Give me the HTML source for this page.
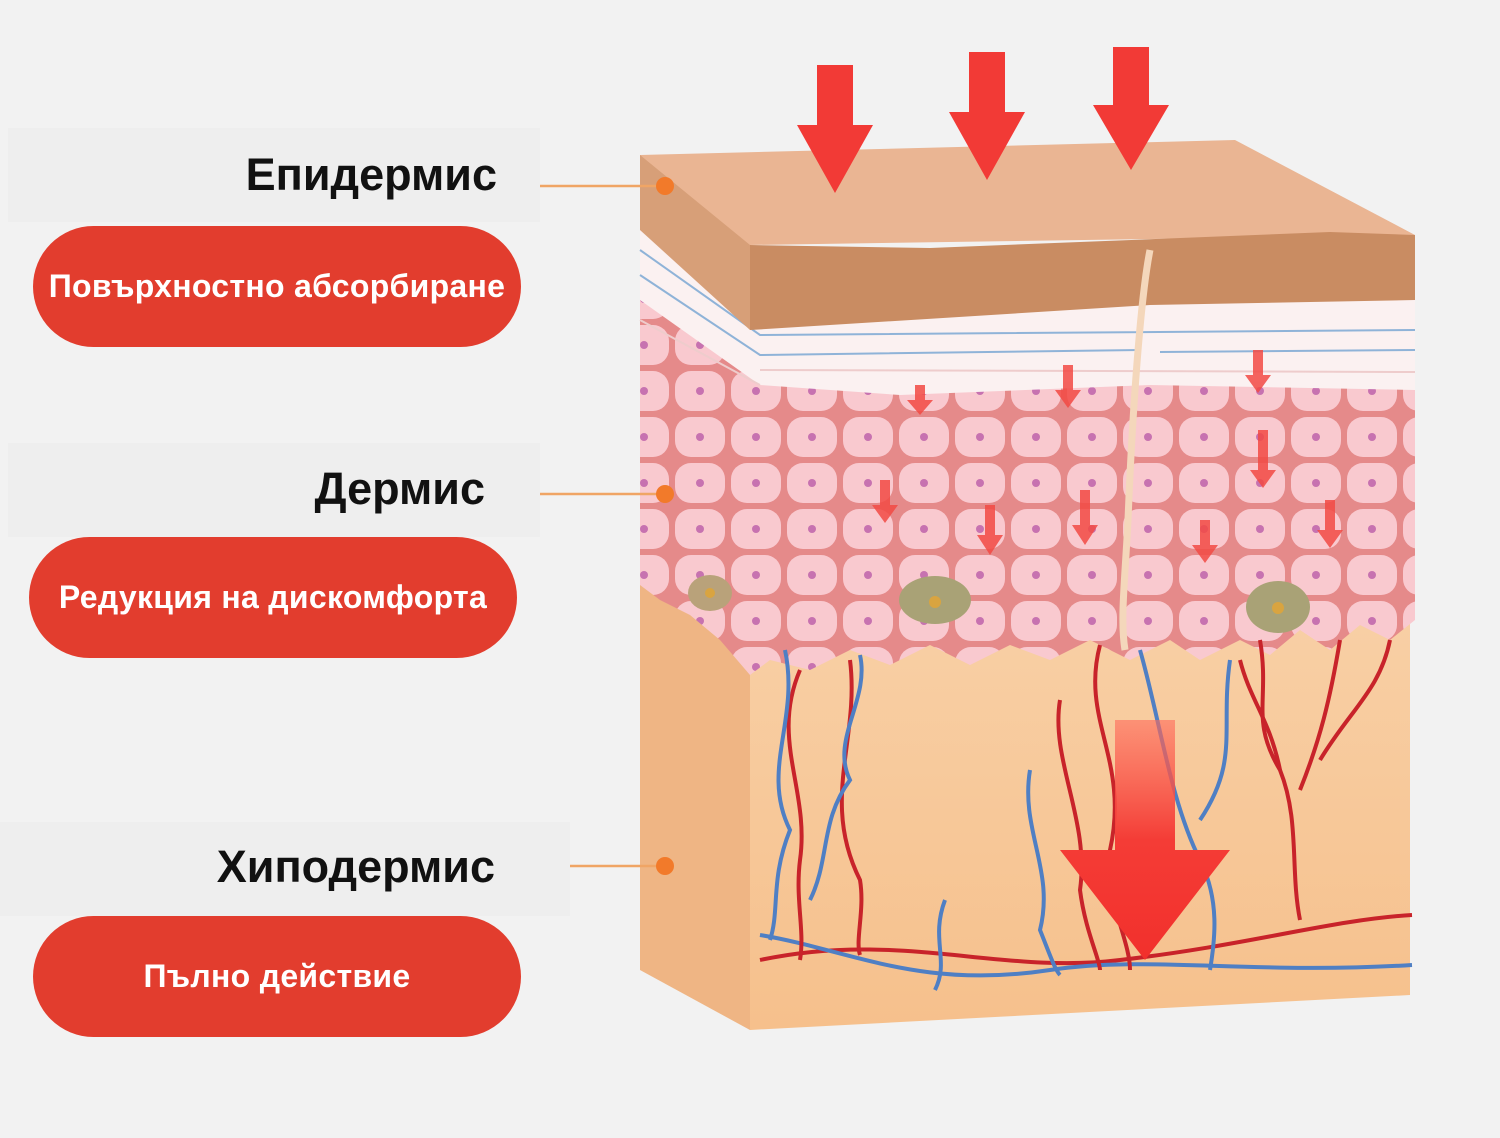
<!DOCTYPE html>
<html><head><meta charset="utf-8"><style>
body{margin:0;width:1500px;height:1138px;background:#f2f2f2;position:relative;overflow:hidden;font-family:"Liberation Sans","DejaVu Sans",sans-serif}
.panel{position:absolute;background:#eeeeee}
.h{position:absolute;font-weight:bold;font-size:45px;color:#111;text-align:right}
.pill{position:absolute;background:#e23d2e;border-radius:61px;color:#fff;font-weight:bold;font-size:32px;display:flex;align-items:center;justify-content:center;letter-spacing:0.3px;white-space:nowrap}
svg{position:absolute;left:0;top:0}
</style></head><body>
<div class="panel" style="left:8px;top:128px;width:532px;height:94px"></div>
<div class="panel" style="left:8px;top:443px;width:532px;height:94px"></div>
<div class="panel" style="left:0;top:822px;width:570px;height:94px"></div>
<div class="h" style="right:1003px;top:149px">Епидермис</div>
<div class="h" style="right:1015px;top:463px">Дермис</div>
<div class="h" style="right:1005px;top:841px">Хиподермис</div>
<div class="pill" style="left:33px;top:226px;width:488px;height:121px">Повърхностно абсорбиране</div>
<div class="pill" style="left:29px;top:537px;width:488px;height:121px">Редукция на дискомфорта</div>
<div class="pill" style="left:33px;top:916px;width:488px;height:121px">Пълно действие</div>
<svg width="1500" height="1138" viewBox="0 0 1500 1138">
<defs>
<pattern id="cells" width="56" height="46" patternUnits="userSpaceOnUse">
<rect width="56" height="46" fill="#e58a8a"/>
<rect x="3" y="3" width="50" height="40" rx="16" fill="#f9c9cf"/>
<circle cx="28" cy="23" r="4" fill="#c772b0"/>
</pattern>
<linearGradient id="hyp" x1="0" y1="0" x2="0" y2="1"><stop offset="0" stop-color="#f8d0a6"/><stop offset="1" stop-color="#f6c08c"/></linearGradient>
<linearGradient id="ar" x1="0" y1="0" x2="0" y2="1"><stop offset="0" stop-color="#ff6a5a" stop-opacity="0.6"/><stop offset="0.5" stop-color="#f43c36"/><stop offset="1" stop-color="#f2302c"/></linearGradient>
</defs>
<polygon points="640,560 750,600 750,1030 640,970" fill="#efb584"/>
<polygon points="750,600 1410,600 1410,995 750,1030" fill="url(#hyp)"/>
<path d="M640,300 L1415,300 L1415,620 L1390,640 L1360,625 L1330,650 L1300,630 L1270,655 L1240,640 L1200,660 L1170,640 L1130,660 L1090,640 L1050,660 L1010,645 L970,665 L930,645 L890,665 L850,650 L810,670 L770,660 L750,675 L720,640 L690,615 L660,600 L640,585 Z" fill="url(#cells)"/>
<ellipse cx="710" cy="593" rx="22" ry="18" fill="#b9a27a"/><circle cx="710" cy="593" r="5" fill="#d9a440"/>
<ellipse cx="935" cy="600" rx="36" ry="24" fill="#a9a276"/><circle cx="935" cy="602" r="6" fill="#d9a440"/>
<ellipse cx="1278" cy="607" rx="32" ry="26" fill="#a9a276"/><circle cx="1278" cy="608" r="6" fill="#d9a440"/>
<path d="M640,230 L750,300 L1415,290 L1415,390 L1150,385 L900,395 L760,385 L640,300 Z" fill="#fbf1f1"/>
<g stroke="#8fb3d8" stroke-width="2" fill="none">
<path d="M640,250 L760,335 L1415,330"/><path d="M640,275 L760,355 L1140,350 M1160,352 L1415,350"/>
</g>
<g stroke="#eecccc" stroke-width="2" fill="none">
<path d="M760,370 L1415,372"/><path d="M640,320 L760,385"/>
</g>
<polygon points="640,155 1235,140 1415,235 750,245 640,230" fill="#eab593"/>
<polygon points="750,245 930,248 1330,232 1415,235 1415,300 1150,305 750,330" fill="#c98c62"/>
<polygon points="640,155 640,230 750,330 750,245" fill="#d79f78"/>
<path d="M1150,250 C1140,300 1132,420 1128,520 C1125,580 1120,620 1125,650" stroke="#f4d7bb" stroke-width="7" fill="none"/>
<g fill="none" stroke-width="4">
<path d="M760,960 C900,930 1000,975 1120,960 C1250,945 1330,920 1412,915" stroke="#c8232a"/>
<path d="M760,935 C850,950 920,990 1050,970 C1150,955 1250,975 1412,965" stroke="#4f7fc4"/>
<path d="M800,670 C770,740 810,790 800,860 C795,900 805,930 800,960" stroke="#c8232a"/>
<path d="M850,660 C860,740 820,800 860,880 C865,910 855,940 860,955" stroke="#c8232a"/>
<path d="M785,650 C800,720 760,770 790,830 C770,880 780,910 770,940" stroke="#4f7fc4"/>
<path d="M860,655 C870,700 830,740 850,780 C820,820 830,860 810,900" stroke="#4f7fc4"/>
<path d="M1100,645 C1080,720 1130,760 1110,850 C1105,900 1130,940 1130,970" stroke="#c8232a"/>
<path d="M1060,700 C1050,760 1090,820 1080,890 C1085,930 1100,960 1100,970" stroke="#c8232a"/>
<path d="M1030,770 C1020,830 1055,870 1040,930 C1050,955 1055,970 1060,975" stroke="#4f7fc4"/>
<path d="M1140,650 C1160,720 1170,800 1200,860 C1220,900 1215,940 1210,970" stroke="#4f7fc4"/>
<path d="M1230,660 C1220,730 1240,760 1200,820" stroke="#4f7fc4"/>
<path d="M1260,640 C1270,700 1250,720 1280,770 C1300,820 1290,870 1300,920" stroke="#c8232a"/>
<path d="M1340,640 C1330,700 1320,740 1300,790 M1390,640 C1380,690 1350,710 1320,760 M1240,660 C1250,700 1270,720 1280,770" stroke="#c8232a"/>
<path d="M945,900 C930,940 950,960 935,990" stroke="#4f7fc4"/>
</g>
<g fill="#f24a44" opacity="0.85">
<path d="M915,385 h10 v15 h8 l-13,15 l-13,-15 h8z"/>
<path d="M1063,365 h10 v25 h8 l-13,18 l-13,-18 h8z"/>
<path d="M1253,350 h10 v25 h8 l-13,18 l-13,-18 h8z"/>
<path d="M880,480 h10 v25 h8 l-13,18 l-13,-18 h8z"/>
<path d="M985,505 h10 v30 h8 l-13,20 l-13,-20 h8z"/>
<path d="M1080,490 h10 v35 h8 l-13,20 l-13,-20 h8z"/>
<path d="M1200,520 h10 v25 h8 l-13,18 l-13,-18 h8z"/>
<path d="M1258,430 h10 v40 h8 l-13,18 l-13,-18 h8z"/>
<path d="M1325,500 h10 v30 h8 l-13,18 l-13,-18 h8z"/>
</g>
<g fill="#f23a36">
<path d="M817,65 h36 v60 h20 l-38,68 l-38,-68 h20z"/>
<path d="M969,52 h36 v60 h20 l-38,68 l-38,-68 h20z"/>
<path d="M1113,47 h36 v58 h20 l-38,65 l-38,-65 h20z"/>
</g>
<path d="M1115,720 h60 v130 h55 l-85,110 l-85,-110 h55z" fill="url(#ar)"/>
<g stroke="#f0a565" stroke-width="2.5"><line x1="540" y1="186" x2="665" y2="186"/><line x1="540" y1="494" x2="665" y2="494"/><line x1="570" y1="866" x2="665" y2="866"/></g>
<g fill="#f27a2a"><circle cx="665" cy="186" r="9"/><circle cx="665" cy="494" r="9"/><circle cx="665" cy="866" r="9"/></g>
</svg>
</body></html>
